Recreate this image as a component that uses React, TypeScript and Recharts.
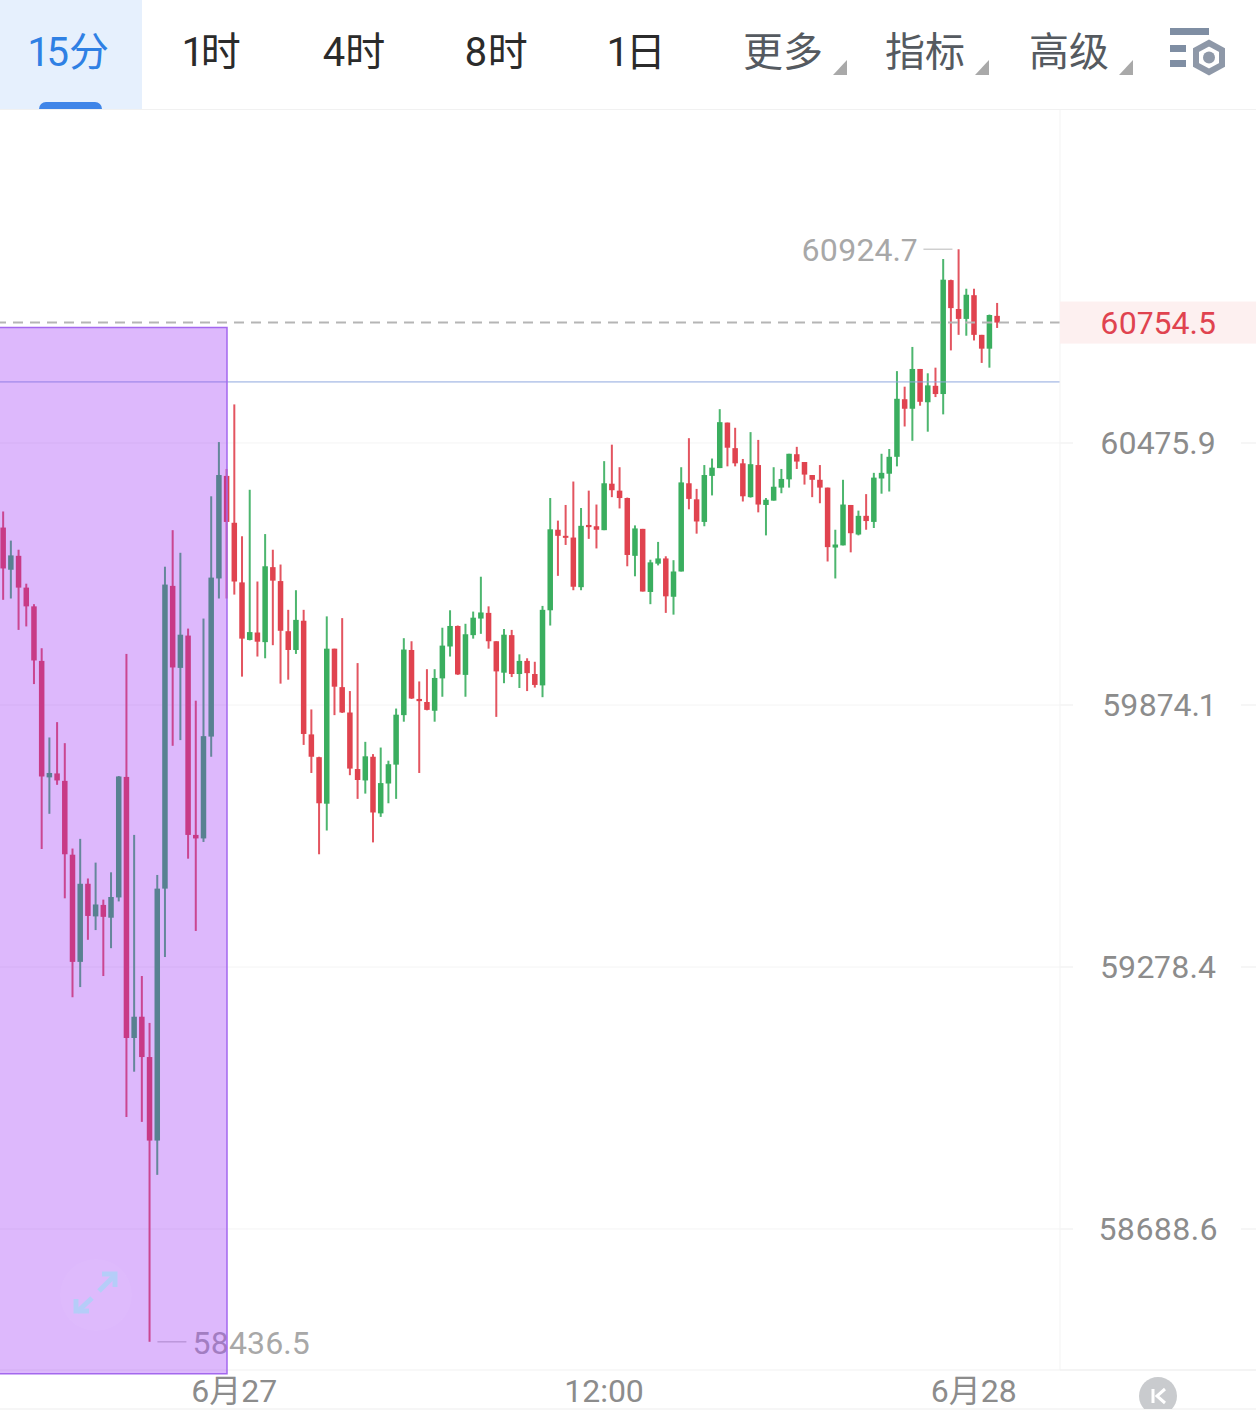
import { ComposedChart, Bar, XAxis, YAxis, CartesianGrid, ReferenceLine, ReferenceArea, ReferenceDot } from 'recharts'

const opens = [
  60281, 60184, 60216, 60143, 60100, 59975, 59709, 59718, 59701, 59533,
  59290, 59467, 59393, 59419, 59390, 59436, 59710, 59118, 59166, 59075,
  58887, 59456, 60147, 59959, 60033, 59578, 59570, 59802, 60164, 60400,
  60292, 60155, 60023, 60040, 60018, 60190, 60158, 60043, 60000, 60067,
  59807, 59755, 59649, 60003, 59915, 59857, 59728, 59702, 59756, 59627,
  59695, 59738, 59851, 60000, 59888, 59881, 59861, 59935, 60008, 60055,
  59943, 60034, 60072, 60085, 60020, 59948, 60034, 59945, 59975, 59945,
  59919, 60091, 60276, 60262, 60258, 60144, 60287, 60284, 60275, 60382,
  60366, 60349, 60216, 60278, 60133, 60198, 60210, 60122, 60180, 60383,
  60346, 60294, 60400, 60418, 60523, 60464, 60429, 60351, 60425, 60333,
  60343, 60373, 60392, 60450, 60432, 60402, 60391, 60373, 60235, 60240,
  60333, 60265, 60308, 60294, 60394, 60405, 60444, 60577, 60555, 60647,
  60570, 60608, 60589, 60853, 60786, 60763, 60818, 60726, 60694, 60770,
]
const closes = [
  60187, 60217, 60143, 60100, 59976, 59711, 59719, 59702, 59534, 59290,
  59467, 59394, 59420, 59392, 59437, 59711, 59118, 59166, 59075, 58887,
  59456, 60150, 59960, 60035, 59578, 59570, 59803, 60166, 60402, 60294,
  60157, 60026, 60041, 60019, 60192, 60159, 60044, 60000, 60069, 59808,
  59756, 59650, 60003, 59916, 59857, 59729, 59703, 59757, 59629, 59696,
  59739, 59852, 60001, 59889, 59883, 59863, 59936, 60010, 60055, 59944,
  60036, 60074, 60086, 60020, 59951, 60035, 59945, 59975, 59947, 59920,
  60092, 60277, 60262, 60258, 60145, 60285, 60282, 60276, 60383, 60367,
  60349, 60218, 60279, 60134, 60201, 60210, 60123, 60180, 60385, 60347,
  60295, 60402, 60419, 60524, 60465, 60429, 60353, 60427, 60334, 60345,
  60375, 60393, 60451, 60433, 60403, 60391, 60373, 60236, 60242, 60334,
  60268, 60308, 60296, 60396, 60407, 60444, 60578, 60555, 60647, 60571,
  60609, 60589, 60854, 60788, 60763, 60819, 60726, 60694, 60772, 60754.5,
]
const highs = [
  60318, 60251, 60230, 60152, 60105, 60004, 59800, 59835, 59787, 59547,
  59569, 59479, 59515, 59431, 59493, 59712, 59991, 59578, 59258, 59152,
  59487, 60191, 60275, 60223, 60049, 59884, 60072, 60353, 60478, 60416,
  60565, 60261, 60368, 60157, 60266, 60230, 60196, 60092, 60137, 60092,
  59864, 59756, 60077, 60003, 60073, 59906, 59970, 59790, 59762, 59777,
  59747, 59866, 60027, 60020, 59928, 59956, 59956, 60051, 60091, 60056,
  60060, 60088, 60168, 60100, 60020, 60048, 60046, 59990, 59981, 59973,
  60101, 60349, 60297, 60333, 60387, 60326, 60366, 60334, 60434, 60472,
  60420, 60350, 60286, 60278, 60207, 60248, 60215, 60206, 60420, 60487,
  60370, 60425, 60440, 60554, 60523, 60511, 60439, 60501, 60483, 60349,
  60420, 60416, 60451, 60467, 60432, 60402, 60425, 60373, 60276, 60391,
  60333, 60320, 60358, 60407, 60451, 60462, 60642, 60606, 60698, 60647,
  60637, 60650, 60902, 60854, 60924.7, 60833, 60833, 60726, 60773, 60800,
]
const lows = [
  60115, 60118, 60046, 60054, 59922, 59546, 59626, 59692, 59434, 59210,
  59233, 59340, 59362, 59258, 59321, 59427, 58940, 59042, 58929, 58436.5,
  58810, 59301, 59781, 59794, 59524, 59360, 59562, 59756, 60118, 60118,
  60127, 59939, 60022, 59985, 59981, 60011, 59923, 59932, 59991, 59783,
  59719, 59534, 59588, 59851, 59856, 59714, 59660, 59672, 59561, 59619,
  59650, 59660, 59836, 59888, 59719, 59862, 59836, 59893, 59985, 59943,
  59893, 60026, 60037, 60003, 59847, 59924, 59938, 59913, 59906, 59914,
  59892, 60056, 60170, 60241, 60137, 60137, 60255, 60233, 60275, 60351,
  60325, 60192, 60169, 60134, 60105, 60194, 60085, 60081, 60180, 60323,
  60267, 60284, 60355, 60418, 60422, 60422, 60341, 60350, 60316, 60263,
  60343, 60360, 60373, 60416, 60380, 60351, 60337, 60203, 60164, 60240,
  60224, 60263, 60276, 60280, 60359, 60364, 60422, 60514, 60481, 60562,
  60502, 60582, 60542, 60690, 60726, 60724, 60713, 60661, 60650, 60742,
]

const priceTicks = [60475.9, 59874.1, 59278.4, 58688.6]
const lastPrice = 60754.5
const markedPrice = 60617
const xTicks = [30, 78, 126]
const xTickLabels = ['6月27', '12:00', '6月28']
const tabs = ['15分', '1时', '4时', '8时', '1日']
const menus = ['更多', '指标', '高级']

const UP = '#3aae5f'
const DOWN = '#e0434f'
const FONT = 'Roboto, "Noto Sans CJK SC", sans-serif'
const AXIS_X = 1060
const PNUM = { fontVariantNumeric: 'proportional-nums' }

const candles = opens.map((open, i) => ({
  i,
  open,
  close: closes[i],
  range: [lows[i], highs[i]],
}))

const maxHigh = Math.max(...highs)
const minLow = Math.min(...lows)

// y axis is logarithmic, so body edges are placed between high and low on a log scale
function Candle(props: any) {
  const { x, y, width, height, payload } = props
  const [low, high] = payload.range
  const cx = x + width / 2
  const at = (v: number) => y + (height * Math.log(high / v)) / Math.log(high / low)
  const top = at(Math.max(payload.open, payload.close))
  const bottom = at(Math.min(payload.open, payload.close))
  const color = payload.close >= payload.open ? UP : DOWN
  return (
    <g>
      <rect x={cx - 1} y={y} width={2} height={height} fill={color} opacity={0.9} />
      <rect x={cx - 2.75} y={top} width={5.5} height={Math.max(bottom - top, 2)} fill={color} />
    </g>
  )
}

function PriceTick({ y, payload }: any) {
  const isLast = payload.value === lastPrice
  return (
    <g>
      {isLast ? (
        <rect x={AXIS_X} y={y - 21} width={196} height={42} fill="#fdf0f0" />
      ) : (
        <>
          <line x1={AXIS_X} x2={AXIS_X + 13} y1={y} y2={y} stroke="#f3f3f3" strokeWidth={1.5} />
          <line x1={AXIS_X + 181} x2={AXIS_X + 196} y1={y} y2={y} stroke="#f3f3f3" strokeWidth={1.5} />
        </>
      )}
      <text
        x={AXIS_X + 98}
        y={y + (isLast ? 3 : 3)}
        textAnchor="middle"
        dominantBaseline="middle"
        fontFamily={FONT}
        fontSize={32}
        style={PNUM}
        fill={isLast ? DOWN : '#8c8c8c'}
      >
        {payload.value}
      </text>
    </g>
  )
}

function HighMark({ cx, cy }: any) {
  return (
    <g>
      <line x1={cx - 35} x2={cx - 6} y1={cy} y2={cy} stroke="#cfcfcf" strokeWidth={1.5} />
      <text x={cx - 41} y={cy + 3} textAnchor="end" dominantBaseline="middle" fontFamily={FONT} fontSize={32} style={PNUM} fill="#a8a8a8">
        {maxHigh}
      </text>
    </g>
  )
}

function LowMark({ cx, cy }: any) {
  return (
    <g>
      <line x1={cx + 8} x2={cx + 37} y1={cy} y2={cy} stroke="#cfcfcf" strokeWidth={1.5} />
      <text x={cx + 43} y={cy + 4} textAnchor="start" dominantBaseline="middle" fontFamily={FONT} fontSize={32} style={PNUM} fill="#a8a8a8">
        {minLow}
      </text>
    </g>
  )
}

function HeadLabel({ x, text, color }: { x: number; text: string; color: string }) {
  return (
    <span
      style={{
        position: 'absolute',
        left: x,
        top: 53,
        transform: 'translate(-50%, -50%)',
        fontFamily: FONT,
        fontSize: 40,
        lineHeight: 1,
        color,
        whiteSpace: 'nowrap',
        ...PNUM,
      }}
    >
      {text}
    </span>
  )
}

const tabCenters = [69, 212, 354, 496, 637]
const menuCenters = [783, 925, 1069]

function Toolbar() {
  return (
    <>
      <div style={{ position: 'absolute', left: 0, top: 0, width: 142, height: 109, background: '#e6f0fd' }} />
      <div style={{ position: 'absolute', left: 39, top: 102, width: 63, height: 7, background: '#3f85e8', borderRadius: '7px 7px 0 0' }} />
      <div style={{ position: 'absolute', left: 0, top: 109, width: 1256, height: 1, background: '#f1f1f1' }} />
      {tabs.map((t, i) => (
        <HeadLabel key={t} x={tabCenters[i]} text={t} color={i === 0 ? '#2f80e4' : '#2b2b2b'} />
      ))}
      {menus.map((t, i) => (
        <HeadLabel key={t} x={menuCenters[i]} text={t} color="#555a60" />
      ))}
      <svg width={1256} height={110} style={{ position: 'absolute', left: 0, top: 0 }}>
        {menuCenters.map(c => (
          <polygon key={c} points={`${c + 64},60 ${c + 64},75 ${c + 50},75`} fill="#a9a9a9" />
        ))}
        <rect x={1170} y={28} width={39} height={7} fill="#7f8ea3" />
        <rect x={1170} y={45} width={16} height={7} fill="#7f8ea3" />
        <rect x={1170} y={60} width={16} height={7} fill="#7f8ea3" />
        <polygon points="1209,43 1222,50 1222,65 1209,72 1196,65 1196,50" fill="none" stroke="#8e98a8" strokeWidth={6} />
        <circle cx={1209} cy={57.5} r={6} fill="#8e98a8" />
      </svg>
    </>
  )
}

function Overlays() {
  return (
    <svg width={1256} height={1418} style={{ position: 'absolute', left: 0, top: 0, pointerEvents: 'none' }}>
      <circle cx={96} cy={1295} r={36} fill="#ffffff" opacity={0.04} />
      <g stroke="#b5cdf8" strokeWidth={5} fill="none">
        <path d="M99 1291 L114 1276" />
        <path d="M102 1274 H115 V1287" />
        <path d="M92 1298 L77 1312" />
        <path d="M76 1299 V1311 H89" />
      </g>
      <line x1={AXIS_X} x2={1256} y1={1370} y2={1370} stroke="#f1f1f1" strokeWidth={1.5} />
      <line x1={0} x2={1256} y1={1409} y2={1409} stroke="#f3f3f3" strokeWidth={1.5} />
      <clipPath id="kclip">
        <rect x={1120} y={1370} width={80} height={39} />
      </clipPath>
      <circle cx={1158} cy={1396} r={19} fill="#c9cbce" clipPath="url(#kclip)" />
      <path d="M1153 1389 V1403" stroke="#fff" strokeWidth={3} />
      <path d="M1165 1389 L1157 1396 L1165 1403" stroke="#fff" strokeWidth={3} fill="none" />
    </svg>
  )
}

export default function App() {
  return (
    <div style={{ position: 'absolute', left: 0, top: 0, width: 1256, height: 1418, background: '#fff', overflow: 'hidden' }}>
      <ComposedChart
        width={1256}
        height={1418}
        data={candles}
        margin={{ top: 110, right: 0, bottom: 0, left: 0 }}
      >
        <CartesianGrid vertical={false} stroke="#f4f4f4" horizontalValues={priceTicks} />
        <XAxis
          dataKey="i"
          type="number"
          domain={[-0.39, 137.18]}
          allowDataOverflow
          ticks={xTicks}
          interval={0}
          height={48}
          tickLine={false}
          axisLine={{ stroke: '#f1f1f1' }}
          tickMargin={3}
          tick={{ fontSize: 32, fill: '#8c8c8c', fontFamily: FONT }}
          tickFormatter={(v: number) => xTickLabels[xTicks.indexOf(v)]}
        />
        <YAxis
          orientation="right"
          type="number"
          scale="log"
          domain={[58373.6, 61249.4]}
          allowDataOverflow
          ticks={[lastPrice, ...priceTicks]}
          interval={0}
          width={196}
          tickLine={false}
          axisLine={{ stroke: '#f3f3f3' }}
          tick={PriceTick}
        />
        <ReferenceLine y={lastPrice} stroke="#b5b5b5" strokeWidth={2} strokeDasharray="10 7" />
        <ReferenceLine y={markedPrice} stroke="#8fa7de" strokeWidth={1} />
        <Bar dataKey="range" barSize={6} shape={Candle} isAnimationActive={false} />
        <ReferenceDot x={highs.indexOf(maxHigh)} y={maxHigh} r={0} shape={HighMark} zIndex={2400} />
        <ReferenceDot x={lows.indexOf(minLow)} y={minLow} r={0} shape={LowMark} zIndex={2400} />
        <ReferenceArea
          x1={-0.6}
          x2={29.07}
          y1={60743}
          y2={58365}
          ifOverflow="visible"
          fill="rgb(152,40,246)"
          fillOpacity={0.33}
          stroke="#a468ee"
          strokeWidth={1.5}
          zIndex={2500}
        />
      </ComposedChart>
      <Toolbar />
      <Overlays />
    </div>
  )
}
